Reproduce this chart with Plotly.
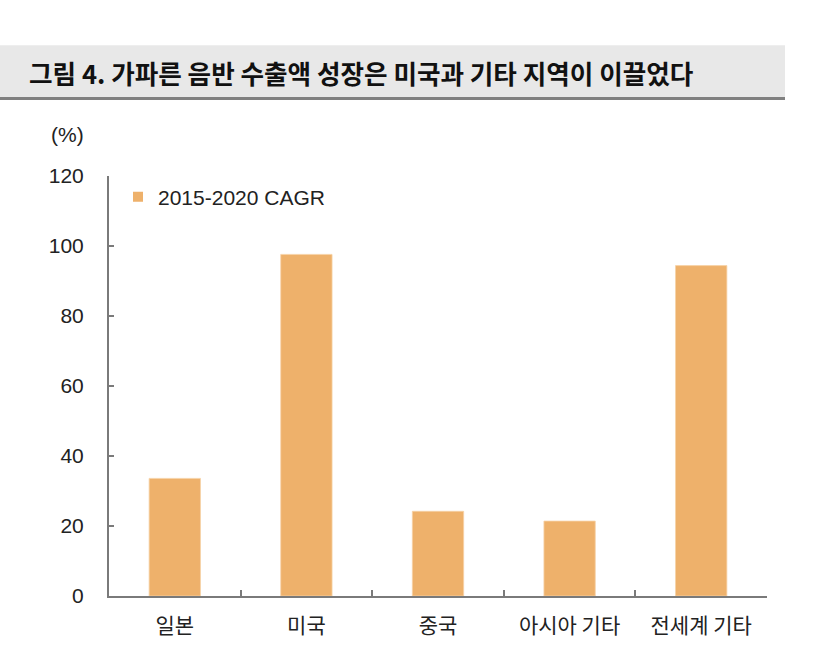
import plotly.graph_objects as go

categories = ["일본", "미국", "중국", "아시아 기타", "전세계 기타"]
values = [33.6, 97.6, 24.2, 21.4, 94.4]
series_name = "2015-2020 CAGR"
title_text = "그림 4. 가파른 음반 수출액 성장은 미국과 기타 지역이 이끌었다"

W, H = 821, 655
L, R = 109, 767
T, B = 176, 596.5

def px(x):
    return (x - L) / (R - L)

def py(y):
    return (B - y) / (B - T)

bar_color = "#EEB16B"

fig = go.Figure()
fig.add_trace(go.Bar(
    x=categories, y=values, name=series_name,
    marker=dict(color=bar_color, line=dict(color="#F6D2A6", width=0.8)),
    width=0.39, showlegend=False,
))
# legend entry with a small square swatch
fig.add_trace(go.Scatter(
    x=[None], y=[None], mode="markers", name=series_name,
    marker=dict(symbol="square", size=10, color=bar_color),
    showlegend=True,
))

font_fam = "Liberation Sans, Noto Sans CJK KR, sans-serif"

fig.update_layout(
    width=W, height=H,
    margin=dict(l=L, r=W - R, t=T, b=H - B, pad=0),
    paper_bgcolor="white", plot_bgcolor="white",
    font=dict(family=font_fam, size=21, color="#222222"),
    showlegend=True,
    legend=dict(x=px(118), y=py(197), xanchor="left", yanchor="middle",
                bgcolor="rgba(0,0,0,0)", font=dict(size=21, color="#222222"),
                itemwidth=30, tracegroupgap=0),
    xaxis=dict(showline=True, linecolor="#7A7A7A", linewidth=2,
               ticks="inside", tickson="boundaries", ticklen=6,
               tickcolor="#7A7A7A", tickwidth=1.5,
               showgrid=False, zeroline=False,
               tickfont=dict(size=21, color="#222222", family="Noto Sans CJK KR"),
               ticklabelstandoff=10),
    yaxis=dict(range=[0, 120], dtick=20, showline=True, linecolor="#7A7A7A",
               linewidth=2, ticks="inside", ticklen=5, tickcolor="#7A7A7A",
               tickwidth=1.5, showgrid=False, zeroline=False,
               tickfont=dict(size=21, color="#222222"),
               ticklabelstandoff=19),
    bargap=0.6,
)

# Title band
fig.add_shape(type="rect", xref="paper", yref="paper",
              x0=px(0), x1=px(785), y0=py(97), y1=py(45),
              fillcolor="#E8E8E8", line=dict(width=0), layer="below")
fig.add_shape(type="line", xref="paper", yref="paper",
              x0=px(0), x1=px(785), y0=py(98.5), y1=py(98.5),
              line=dict(color="#808080", width=3))
fig.add_annotation(text="<b>" + title_text + "</b>", xref="paper", yref="paper",
                   x=px(27), y=py(72), xanchor="left", yanchor="middle",
                   showarrow=False,
                   font=dict(size=25.6, color="#111111", family="Noto Sans CJK KR"))
fig.add_annotation(text="(%)", xref="paper", yref="paper",
                   x=px(49), y=py(134), xanchor="left", yanchor="middle",
                   showarrow=False, font=dict(size=21, color="#222222"))

fig.write_html("out.html")
